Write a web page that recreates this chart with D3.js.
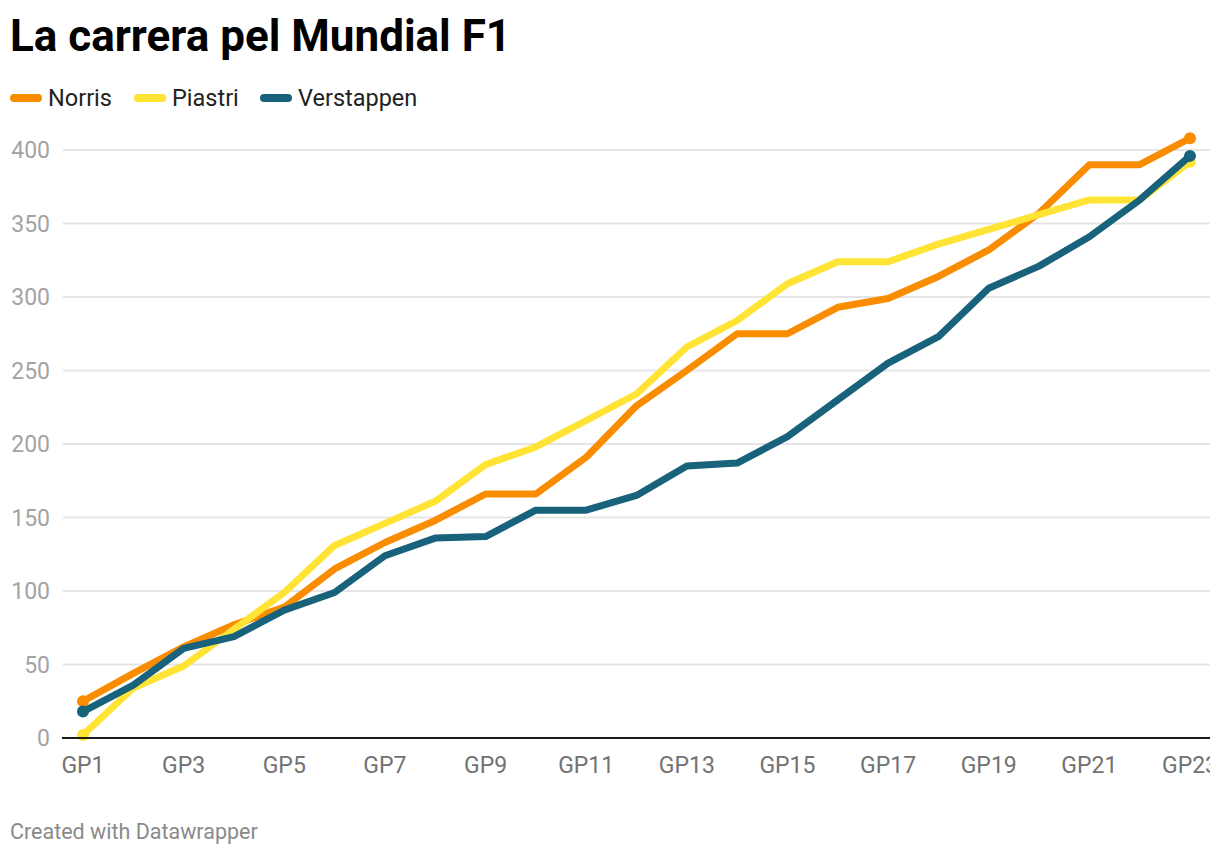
<!DOCTYPE html>
<html lang="ca">
<head>
<meta charset="UTF-8">
<script src="https://cdnjs.cloudflare.com/ajax/libs/d3/7.8.5/d3.min.js"></script>
<title>La carrera pel Mundial F1</title>
<style>
  body { margin: 0; background: #fff; }
  svg { display: block; font-family: Roboto, "Noto Sans", sans-serif; }
</style>
</head>
<body>
<svg id="chart" width="1210" height="854"></svg>
<script>
// dades llegides del gràfic
var races = d3.range(1, 24).map(function (i) { return "GP" + i; });
var norris = [25, 44, 62, 77, 89, 115, 133, 148, 166, 166, 191, 226, 250, 275, 275, 293, 299, 314, 332, 357, 390, 390, 408];
var piastri = [2, 34, 49, 74, 99, 131, 146, 161, 186, 198, 216, 234, 266, 284, 309, 324, 324, 336, 346, 356, 366, 366, 392];
var verstappen = [18, 36, 61, 69, 87, 99, 124, 136, 137, 155, 155, 165, 185, 187, 205, 230, 255, 273, 306, 321, 341, 366, 396];
var yTicks = [0, 50, 100, 150, 200, 250, 300, 350, 400];
var xTicks = races.filter(function (d, i) { return i % 2 == 0; });

var series = [
    { name: "Norris", values: norris, color: "#fa8c00" },
    { name: "Piastri", values: piastri, color: "#ffe335" },
    { name: "Verstappen", values: verstappen, color: "#18627b" }
];

var svg = d3.select("#chart");

svg.append("text")
    .attr("x", 10).attr("y", 51)
    .attr("font-size", "44px").attr("font-weight", "bold").attr("fill", "#000")
    .text("La carrera pel Mundial F1");

// llegenda
var legendX = [10, 134, 260];
var legend = svg.append("g").selectAll("g")
    .data(series).enter().append("g")
    .attr("transform", function (d, i) { return "translate(" + legendX[i] + ",98)"; });
legend.append("line")
    .attr("x1", 4).attr("x2", 28).attr("y1", 0).attr("y2", 0)
    .attr("stroke", function (d) { return d.color; })
    .attr("stroke-width", 8).attr("stroke-linecap", "round");
legend.append("text")
    .attr("x", 38).attr("y", 8)
    .attr("font-size", "23.5px").attr("fill", "#222")
    .text(function (d) { return d.name; });

var x = d3.scalePoint().domain(races).range([83, 1190]);
var y = d3.scaleLinear().domain([0, 400]).range([738, 150]);

// graella
svg.append("g").selectAll("line")
    .data(yTicks.filter(function (d) { return d > 0; })).enter().append("line")
    .attr("x1", 63).attr("x2", 1210)
    .attr("y1", function (d) { return y(d); }).attr("y2", function (d) { return y(d); })
    .attr("stroke", "#e5e5e5").attr("stroke-width", 2);

svg.append("g").selectAll("text")
    .data(yTicks).enter().append("text")
    .attr("x", 50).attr("y", function (d) { return y(d) + 8; })
    .attr("text-anchor", "end").attr("font-size", "23px").attr("fill", "#a3a3a3")
    .text(function (d) { return d; });

svg.append("g").selectAll("text")
    .data(xTicks).enter().append("text")
    .attr("x", function (d) { return x(d); }).attr("y", 773)
    .attr("text-anchor", "middle").attr("font-size", "23px").attr("fill", "#727272")
    .text(function (d) { return d; });

var line = d3.line()
    .x(function (d, i) { return x(races[i]); })
    .y(function (d) { return y(d); });

var lines = svg.append("g").selectAll("g")
    .data(series).enter().append("g");
lines.append("path")
    .attr("d", function (d) { return line(d.values); })
    .attr("fill", "none")
    .attr("stroke", function (d) { return d.color; })
    .attr("stroke-width", 7)
    .attr("stroke-linejoin", "round");
lines.selectAll("circle")
    .data(function (d) {
        var n = d.values.length - 1;
        return [{ i: 0, v: d.values[0], c: d.color }, { i: n, v: d.values[n], c: d.color }];
    })
    .enter().append("circle")
    .attr("cx", function (d) { return x(races[d.i]); })
    .attr("cy", function (d) { return y(d.v); })
    .attr("r", 6)
    .attr("fill", function (d) { return d.c; });

// línia del zero
svg.append("line")
    .attr("x1", 62).attr("x2", 1210)
    .attr("y1", y(0)).attr("y2", y(0))
    .attr("stroke", "#1a1a1a").attr("stroke-width", 2);

svg.append("text")
    .attr("x", 10).attr("y", 839)
    .attr("font-size", "21.5px").attr("fill", "#8a8a8a")
    .text("Created with Datawrapper");
</script>
</body>
</html>
